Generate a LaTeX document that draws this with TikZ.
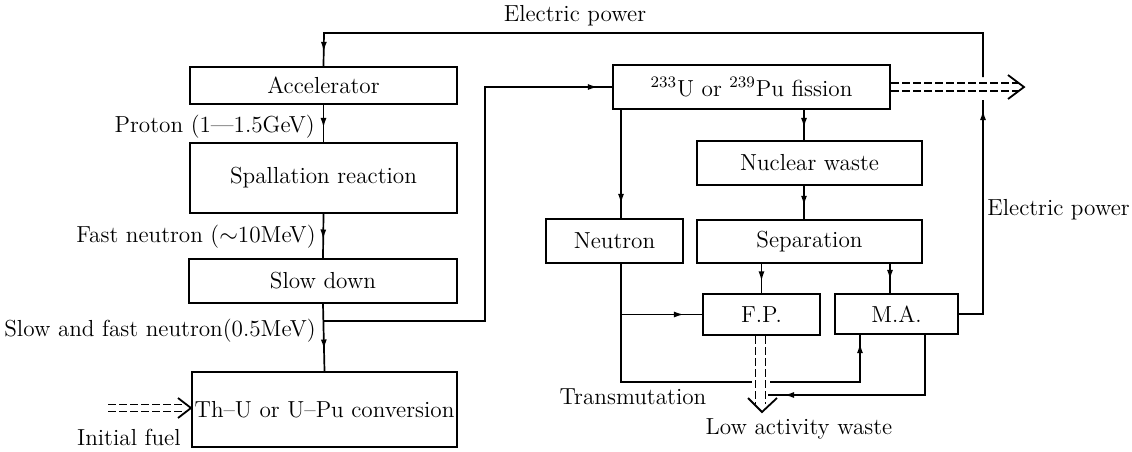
\documentclass[tikz,border=0pt]{standalone}
\usetikzlibrary{arrows.meta,decorations.markings,calc}
\begin{document}
\begin{tikzpicture}[x=0.5pt,y=-0.5pt,
  box/.style={draw, line width=1.1pt, inner sep=0pt, font=\fontsize{11.6}{13}\selectfont},
  lab/.style={inner sep=0pt, font=\fontsize{11.6}{13}\selectfont},
  ln/.style={line width=0.85pt},
  arr/.style={postaction={decorate}, decoration={markings, mark=at position #1 with {\arrow{Latex[length=5pt,width=3pt]}}}},
  dsh/.style={line width=0.8pt, dash pattern=on 4pt off 1.5pt},
  chev/.style={line width=0.9pt, line join=miter},
]
\useasboundingbox (0,0) rectangle (1132,451);

% boxes
\node[box, minimum width=133.5pt, minimum height=18.5pt] (acc)  at (323.5,85.5) {Accelerator};
\node[box, minimum width=133.5pt, minimum height=35pt]   (spal) at (323.5,178)  {Spallation reaction};
\node[box, minimum width=134pt,   minimum height=22pt]   (slow) at (323,281)    {Slow down};
\node[box, minimum width=132.5pt, minimum height=37.5pt] (conv) at (324.5,409.5) {Th--U or U--Pu conversion};
\node[box, minimum width=138.5pt, minimum height=22pt]   (fis)  at (751.5,87)   {$^{233}$U or $^{239}$Pu fission};
\node[box, minimum width=112.5pt, minimum height=22pt]   (nw)   at (809.5,163)  {Nuclear waste};
\node[box, minimum width=112.5pt, minimum height=21.5pt] (sep)  at (809.5,241.5) {Separation};
\node[box, minimum width=68.5pt,  minimum height=22pt]   (neu)  at (614.5,241)  {Neutron};
\node[box, minimum width=58.5pt,  minimum height=20.5pt] (fp)   at (761.5,314.5) {F.P.};
\node[box, minimum width=61.5pt,  minimum height=20pt]   (ma)   at (896.5,314)  {M.A.};

% labels
\node[lab] (lep)  at (575,16) {Electric power};
\node[lab, anchor=east] (lpro) at (315,127) {Proton (1---1.5GeV)};
\node[lab, anchor=east] (lfast) at (316,237) {Fast neutron ($\sim$10MeV)};
\node[lab, anchor=east] (lslow) at (316,331) {Slow and fast neutron(0.5MeV)};
\node[lab, anchor=east] (lini) at (181,437) {Initial fuel};
\node[lab] (ltra) at (633,397) {Transmutation};
\node[lab] (llow) at (799,429) {Low activity waste};
\node[lab, anchor=west] (lep2) at (987,210) {Electric power};

% helper x-positions
\coordinate (nx) at (621,0);
\coordinate (cx) at (804,0);
\coordinate (mx) at (890,0);
\coordinate (m2) at (860,0);
\coordinate (m3) at (925,0);
\coordinate (ex) at (983,0);
\coordinate (bx) at (485,0);

% left column
\draw[ln, arr=0.62] (acc.south) -- (spal.north);
\draw[ln, arr=0.58] (spal.south) -- (slow.north);
\draw[ln, arr=0.68] (slow.south) -- (conv.north);
\coordinate (br) at (324,321);
\draw[ln, arr=-7pt] (br) -| (bx |- fis.west) -- (fis.west);

% electric power loop
\coordinate (etop) at (983,77);
\coordinate (ebot) at (983,100);
\draw[ln, arr=-5pt] (ma.east) -| (ebot);
\draw[ln, arr=-7pt] (etop) |- (324,33) -- (acc.north);

% right network
\draw[ln, arr=-7pt] (fis.south -| nx) -- (neu.north -| nx);
\draw[ln, arr=0.6] (fis.south -| cx) -- (nw.north -| cx);
\draw[ln, arr=0.6] (nw.south -| cx) -- (sep.north -| cx);
\draw[ln, arr=0.6] (sep.south -| fp.north) -- (fp.north);
\draw[ln, arr=0.55] (sep.south -| mx) -- (ma.north -| mx);
\draw[ln, arr=-9pt] (nx |- fp.west) -- (fp.west);
\coordinate (loopL) at (752,382);
\coordinate (loopR) at (770,382);
\draw[ln] (neu.south -| nx) |- (loopL);
\draw[ln, arr=-4pt] (loopR) -| (ma.south -| m2);
\coordinate (wend) at (768,395);
\draw[ln, arr=-8pt] (ma.south -| m3) |- (wend);

% dashed double arrows
\coordinate (fout) at (1024,87);
\draw[dsh] ($(fis.east)+(0,-4)$) -- ++(128,0);
\draw[dsh] ($(fis.east)+(0,4)$) -- ++(128,0);
\draw[chev] ($(fout)+(-16,-12)$) -- (fout) -- ($(fout)+(-16,12)$);

\coordinate (wtip) at (762,412);
\draw[dsh] ($(fp.south)+(-6,0)$) -- ++(0,68);
\draw[dsh] ($(fp.south)+(4,0)$) -- ++(0,68);
\draw[chev] ($(wtip)+(-14,-14)$) -- (wtip) -- ($(wtip)+(15,-14)$);

\coordinate (fin) at (108,408);
\coordinate (ftip) at (191,408);
\draw[dsh] ($(fin)+(0,-3.5)$) -- ($(ftip)+(-4,-3.5)$);
\draw[dsh] ($(fin)+(0,3.5)$) -- ($(ftip)+(-4,3.5)$);
\draw[chev] ($(ftip)+(-13,-10)$) -- (ftip) -- ($(ftip)+(-13,10)$);
\end{tikzpicture}
\end{document}
